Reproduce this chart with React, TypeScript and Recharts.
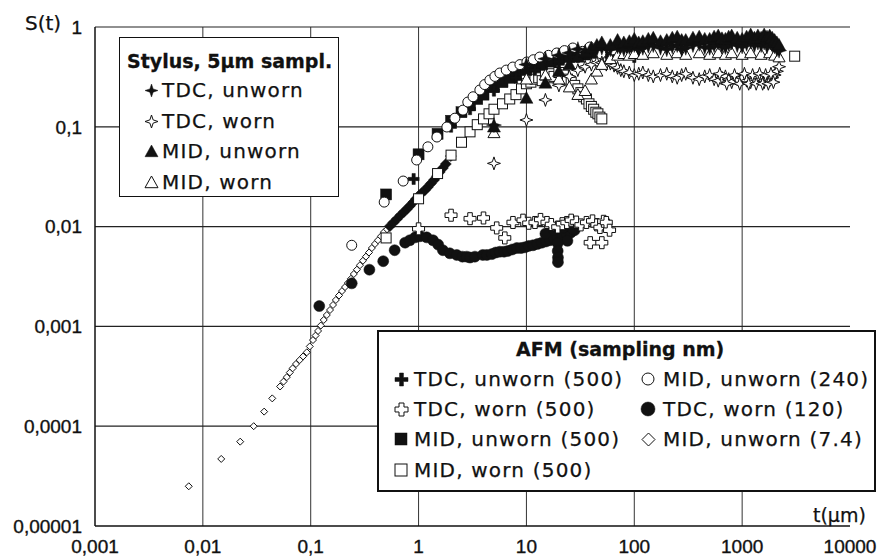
import React from 'react';
import { ScatterChart, Scatter, XAxis, YAxis, ReferenceLine } from 'recharts';

type Pt = [number, number];

// axis ticks and grid
const xTicks = [0.001, 0.01, 0.1, 1, 10, 100, 1000, 10000];
const yTicks = [0.00001, 0.0001, 0.001, 0.01, 0.1, 1];
const xGrid = [0.01, 0.1, 1, 10, 100, 1000];
const yGrid = [0.0001, 0.001, 0.01, 0.1, 1];

// AFM, MID unworn (7.4 nm) - small open diamonds
const afmMidUnworn74: Pt[] = [
  [0.0074, 2.5e-5], [0.0148, 4.7e-5], [0.0222, 7.0e-5], [0.0296, 1.0e-4], [0.037, 1.4e-4],
  [0.044, 1.9e-4], [0.052, 2.5e-4], [0.056, 2.8e-4], [0.06, 3.1e-4], [0.064, 3.45e-4], [0.068, 3.8e-4],
  [0.073, 4.2e-4], [0.079, 4.6e-4], [0.085, 5.0e-4], [0.092, 5.5e-4], [0.098, 6.3e-4], [0.105, 7.3e-4],
  [0.111, 8.1e-4], [0.117, 9.0e-4], [0.124, 1.02e-3], [0.132, 1.16e-3], [0.141, 1.3e-3], [0.151, 1.46e-3],
  [0.161, 1.64e-3], [0.171, 1.84e-3], [0.183, 2.04e-3], [0.195, 2.26e-3], [0.208, 2.48e-3], [0.221, 2.72e-3],
  [0.236, 3.0e-3], [0.251, 3.35e-3], [0.268, 3.7e-3], [0.286, 4.1e-3], [0.305, 4.55e-3], [0.325, 5.0e-3],
  [0.347, 5.5e-3], [0.369, 6.1e-3], [0.394, 6.7e-3], [0.42, 7.3e-3], [0.448, 8.0e-3], [0.477, 8.8e-3],
  [0.51, 9.4e-3],
];
// same series where the points pile up into a solid band
const afmMidUnworn74Dense: Pt[] = [
  [0.542, 0.0101], [0.585, 0.011], [0.629, 0.0119], [0.68, 0.013], [0.731, 0.014], [0.78, 0.015],
  [0.83, 0.0161], [0.89, 0.0175], [0.944, 0.0189], [1.0, 0.0203], [1.07, 0.0217], [1.15, 0.0233],
  [1.22, 0.0249], [1.3, 0.027], [1.39, 0.0293], [1.48, 0.032], [1.57, 0.0352], [1.68, 0.0386],
  [1.79, 0.0424], [1.99, 0.0509],
];
// AFM, TDC worn (120 nm) - filled circles
const afmTdcWorn120: Pt[] = [
  [0.12, 0.0016], [0.24, 0.0027], [0.35, 0.0037], [0.47, 0.0045], [0.6, 0.0058], [0.75, 0.0069],
  [0.83, 0.0073], [0.93, 0.0078], [1.03, 0.008], [1.19, 0.0078], [1.36, 0.0073], [1.52, 0.0066],
  [1.68, 0.0058], [1.95, 0.0054], [2.26, 0.0052], [2.55, 0.005], [2.8, 0.005], [3.0, 0.0049],
  [3.33, 0.005], [3.94, 0.0052], [4.3, 0.0052], [4.78, 0.0053], [5.2, 0.0055], [5.67, 0.0056],
  [6.2, 0.0056], [6.73, 0.0057], [7.4, 0.0059], [8.15, 0.0061], [8.9, 0.0061], [9.66, 0.0062],
  [10.5, 0.0064], [11.5, 0.0065], [12.7, 0.0067], [13.9, 0.0069], [15.2, 0.0071], [16.5, 0.0073],
  [18, 0.0076], [19.5, 0.0079], [21.5, 0.0081], [23.7, 0.0082], [25.8, 0.0087], [28, 0.0092],
  [15, 0.0085], [18, 0.0092], [22, 0.0098], [25, 0.0101], [27, 0.0095], [24, 0.0072],
  [19.5, 0.0068], [19.5, 0.0057], [19.6, 0.0049], [19.6, 0.0044],
];
// AFM, TDC worn (500 nm) - open plus
const afmTdcWorn500: Pt[] = [
  [1.0, 0.0095], [2.0, 0.013], [3.0, 0.012], [4.0, 0.0122], [5.3, 0.0097], [6.3, 0.0077],
  [7.5, 0.011], [9.3, 0.0116], [10.5, 0.0108], [12, 0.011], [13.5, 0.0118], [15.5, 0.011],
  [17, 0.0105], [19.5, 0.0099], [21.5, 0.0107], [23.7, 0.011], [26, 0.0116], [29, 0.0111],
  [32, 0.0104], [36, 0.011], [39, 0.0069], [41, 0.0114], [45, 0.0104], [48, 0.0098],
  [50, 0.0069], [52, 0.0113], [55, 0.011], [59, 0.0092],
];
// AFM, MID worn (500 nm) - open squares
const afmMidWorn500: Pt[] = [
  [0.5, 0.0077], [1.0, 0.019], [1.5, 0.034], [2.0, 0.052], [2.5, 0.07], [3.0, 0.089], [3.5, 0.105],
  [4.0, 0.12], [4.5, 0.135], [5.0, 0.15], [6, 0.17], [7, 0.19], [8, 0.21], [9, 0.24], [10, 0.27],
  [11, 0.28], [12, 0.3], [13, 0.31], [14, 0.29], [15, 0.33], [16, 0.31], [17, 0.34], [18, 0.32],
  [20, 0.35], [22, 0.33], [24, 0.3], [26, 0.28], [28, 0.26], [30, 0.24], [32, 0.22], [34, 0.2],
  [36, 0.19], [38, 0.17], [40, 0.16], [42, 0.15], [44, 0.14], [46, 0.135], [48, 0.125], [50, 0.12],
  [3070, 0.51],
];
// AFM, MID unworn (500 nm) - filled squares
const afmMidUnworn500: Pt[] = [
  [0.5, 0.021], [1.0, 0.053], [1.5, 0.085], [2.0, 0.115], [2.5, 0.14], [3, 0.165], [3.5, 0.19],
  [4, 0.21], [5, 0.25], [6, 0.28], [7, 0.31], [8, 0.33], [10, 0.37], [12, 0.4], [14, 0.42],
  [17, 0.45], [20, 0.47], [25, 0.5], [30, 0.52], [35, 0.53], [40, 0.55], [50, 0.57], [60, 0.55],
  [70, 0.58], [85, 0.56], [100, 0.6],
];
// AFM, MID unworn (240 nm) - open circles
const afmMidUnworn240: Pt[] = [
  [0.24, 0.0065], [0.48, 0.0176], [0.72, 0.0286], [0.96, 0.0465], [1.22, 0.063], [1.48, 0.079],
  [1.83, 0.0995], [2.17, 0.122], [2.58, 0.147], [2.86, 0.177], [3.2, 0.2], [3.7, 0.234],
  [4.1, 0.265], [4.58, 0.294], [5.1, 0.32], [5.67, 0.346], [6.5, 0.37], [7.48, 0.397],
  [8.7, 0.42], [10.1, 0.446], [11.6, 0.47], [13.3, 0.5], [16, 0.52], [19.1, 0.549],
  [22.5, 0.58], [26.9, 0.616], [33, 0.57], [38.7, 0.63], [49, 0.54], [63, 0.59],
];
// AFM, TDC unworn (500 nm) - filled plus
const afmTdcUnworn500: Pt[] = [
  [0.9, 0.03], [2, 0.1], [3, 0.15], [5, 0.23], [8, 0.31], [12, 0.37], [20, 0.45], [30, 0.5],
  [50, 0.52], [80, 0.56], [100, 0.5],
];

// Stylus, 5 um sampling
const stylusTdcUnworn: Pt[] = [
  [5, 0.104], [10, 0.42], [15, 0.48], [20, 0.52], [25, 0.55], [30, 0.6], [35, 0.56], [40, 0.58],
  [45, 0.6], [50, 0.62], [60, 0.6], [70, 0.64], [80, 0.6], [90, 0.63], [100, 0.66], [110, 0.6],
  [120, 0.62], [135, 0.65], [150, 0.66], [175, 0.62], [200, 0.6], [225, 0.64], [250, 0.66],
  [275, 0.6], [300, 0.62], [350, 0.66], [400, 0.68], [450, 0.63], [500, 0.62], [550, 0.66],
  [600, 0.7], [650, 0.64], [700, 0.63], [750, 0.68], [800, 0.7], [900, 0.66], [1000, 0.64],
  [1100, 0.68], [1200, 0.72], [1300, 0.66], [1400, 0.7], [1500, 0.66], [1600, 0.7], [1700, 0.64],
  [1800, 0.72], [1900, 0.68], [2000, 0.64], [2100, 0.6], [2200, 0.58],
];
const stylusTdcWorn: Pt[] = [
  [5, 0.043], [10, 0.117], [15, 0.186], [20, 0.26], [25, 0.32], [30, 0.37], [35, 0.4], [40, 0.42],
  [45, 0.44], [50, 0.44], [55, 0.42], [60, 0.43], [65, 0.41], [70, 0.39], [75, 0.37], [80, 0.36],
  [90, 0.35], [100, 0.33], [110, 0.34], [120, 0.35], [135, 0.33], [150, 0.32], [175, 0.33],
  [200, 0.34], [225, 0.32], [250, 0.31], [275, 0.33], [300, 0.34], [350, 0.31], [400, 0.3],
  [450, 0.32], [500, 0.33], [550, 0.3], [600, 0.29], [650, 0.31], [700, 0.32], [750, 0.3],
  [800, 0.28], [900, 0.3], [1000, 0.31], [1100, 0.29], [1200, 0.28], [1300, 0.3], [1400, 0.31],
  [1500, 0.3], [1600, 0.28], [1700, 0.3], [1800, 0.29], [1900, 0.31], [2000, 0.33], [2100, 0.36],
  [2200, 0.4], [620, 0.34], [720, 0.27], [850, 0.33], [950, 0.27], [1050, 0.34], [1150, 0.27],
  [1250, 0.33], [1350, 0.27], [1450, 0.34], [1550, 0.27], [1650, 0.33], [1750, 0.27], [1850, 0.34],
  [1950, 0.28],
];
const stylusMidUnworn: Pt[] = [
  [5, 0.1], [10, 0.194], [15, 0.275], [20, 0.36], [25, 0.42], [30, 0.5], [35, 0.56], [40, 0.62],
  [45, 0.66], [50, 0.7], [60, 0.66], [70, 0.74], [80, 0.7], [90, 0.72], [100, 0.76], [110, 0.7],
  [120, 0.72], [135, 0.76], [150, 0.78], [175, 0.72], [200, 0.74], [225, 0.78], [250, 0.8],
  [275, 0.74], [300, 0.74], [350, 0.78], [400, 0.8], [450, 0.76], [500, 0.76], [550, 0.8],
  [600, 0.82], [650, 0.77], [700, 0.76], [750, 0.8], [800, 0.82], [900, 0.78], [1000, 0.76],
  [1100, 0.8], [1200, 0.84], [1300, 0.78], [1400, 0.82], [1500, 0.78], [1600, 0.84], [1700, 0.8],
  [1800, 0.82], [1900, 0.78], [2000, 0.74], [2100, 0.7], [2200, 0.66],
];
const stylusMidWorn: Pt[] = [
  [5, 0.087], [10, 0.3], [15, 0.33], [20, 0.3], [25, 0.25], [30, 0.21], [35, 0.23], [40, 0.3],
  [45, 0.36], [50, 0.42], [60, 0.48], [70, 0.52], [80, 0.54], [90, 0.52], [100, 0.54], [120, 0.53],
  [150, 0.55], [200, 0.53], [250, 0.55], [300, 0.53], [400, 0.55], [500, 0.53], [600, 0.55],
  [700, 0.53], [800, 0.55], [1000, 0.53], [1200, 0.55], [1500, 0.53], [1800, 0.55], [2000, 0.52],
  [2200, 0.5],
];

const INK = '#111';
const LEGEND_FONT = '"DejaVu Sans", Verdana, sans-serif';
const TICK_FONT = '"Liberation Sans", Arial, sans-serif';

const toXY = (arr: Pt[]) => arr.map(([x, y]) => ({ x, y }));
const fmt = (v: number) => String(v).replace('.', ',');

function marker(kind: string, cx: number, cy: number, s: number) {
  const r = s / 2;
  const open = { fill: '#fff', stroke: INK, strokeWidth: 1 };
  const solid = { fill: INK, stroke: INK, strokeWidth: 0.5 };
  switch (kind) {
    case 'star':
    case 'starOpen': {
      const k = r * 0.25;
      const d = `M${cx},${cy - r} L${cx + k},${cy - k} L${cx + r},${cy} L${cx + k},${cy + k} L${cx},${cy + r} L${cx - k},${cy + k} L${cx - r},${cy} L${cx - k},${cy - k} Z`;
      return <path d={d} {...(kind === 'star' ? solid : open)} />;
    }
    case 'tri':
    case 'triOpen': {
      const d = `M${cx},${cy - r} L${cx + r},${cy + r * 0.8} L${cx - r},${cy + r * 0.8} Z`;
      return <path d={d} {...(kind === 'tri' ? solid : open)} />;
    }
    case 'plus':
    case 'plusOpen': {
      const a = kind === 'plus' ? r * 0.3 : r * 0.38;
      const d = `M${cx - a},${cy - r} H${cx + a} V${cy - a} H${cx + r} V${cy + a} H${cx + a} V${cy + r} H${cx - a} V${cy + a} H${cx - r} V${cy - a} H${cx - a} Z`;
      return <path d={d} {...(kind === 'plus' ? solid : open)} />;
    }
    case 'square':
    case 'squareOpen':
      return <rect x={cx - r} y={cy - r} width={s} height={s} {...(kind === 'square' ? solid : open)} />;
    case 'circle':
    case 'circleOpen':
      return <circle cx={cx} cy={cy} r={r} {...(kind === 'circle' ? solid : open)} />;
    case 'diamond':
    case 'diamondOpen': {
      const d = `M${cx},${cy - r} L${cx + r},${cy} L${cx},${cy + r} L${cx - r},${cy} Z`;
      return <path d={d} {...(kind === 'diamond' ? solid : open)} />;
    }
    default:
      return <g />;
  }
}

const shape = (kind: string, s: number) => (p: any) => marker(kind, p.cx, p.cy, s);

const LegendMark = ({ kind, s, x, y }: { kind: string; s: number; x: number; y: number }) => (
  <svg width={s + 4} height={s + 4} style={{ position: 'absolute', left: x - s / 2 - 2, top: y - s / 2 - 2 }}>
    {marker(kind, s / 2 + 2, s / 2 + 2, s)}
  </svg>
);

const Label = ({ x, y, text, bold, size = 20, spacing = 1.2 }: { x: number; y: number; text: string; bold?: boolean; size?: number; spacing?: number }) => (
  <div
    style={{
      position: 'absolute', left: x, top: y - 14, height: 28, lineHeight: '28px', whiteSpace: 'nowrap',
      fontFamily: LEGEND_FONT, fontSize: size, fontWeight: bold ? 700 : 400, letterSpacing: spacing, color: INK,
      WebkitTextStroke: bold ? '0.3px #111' : '0.25px #111',
    }}
  >
    {text}
  </div>
);

const stylusItems = [
  { kind: 'star', s: 13, text: 'TDC, unworn' },
  { kind: 'starOpen', s: 13, text: 'TDC, worn' },
  { kind: 'tri', s: 13, text: 'MID, unworn' },
  { kind: 'triOpen', s: 13, text: 'MID, worn' },
];
const afmLeftItems = [
  { kind: 'plus', s: 13, text: 'TDC, unworn (500)' },
  { kind: 'plusOpen', s: 13, text: 'TDC, worn (500)' },
  { kind: 'square', s: 12, text: 'MID, unworn (500)' },
  { kind: 'squareOpen', s: 12, text: 'MID, worn (500)' },
];
const afmRightItems = [
  { kind: 'circleOpen', s: 12, text: 'MID, unworn (240)' },
  { kind: 'circle', s: 14, text: 'TDC, worn (120)' },
  { kind: 'diamondOpen', s: 13, text: 'MID, unworn (7.4)' },
];
const stylusRows = [90, 121, 151, 182];
const afmRows = [379, 409, 439, 470];

export default function App() {
  const tick = { fontSize: 19, fill: INK, fontFamily: TICK_FONT, stroke: INK, strokeWidth: 0.35 };
  return (
    <div style={{ position: 'absolute', left: 0, top: 0, width: 883, height: 560, background: '#fff' }}>
      <ScatterChart width={883} height={560} margin={{ top: 27, right: 33, bottom: 0, left: 15 }}>
        <XAxis
          dataKey="x" type="number" scale="log" domain={[0.001, 10000]} ticks={xTicks} interval={0}
          allowDataOverflow tickFormatter={fmt} tick={tick} tickLine={false} tickSize={0} tickMargin={14}
          height={34} axisLine={{ stroke: INK, strokeWidth: 1.5 }}
        />
        <YAxis
          dataKey="y" type="number" scale="log" domain={[0.00001, 1]} ticks={yTicks} interval={0}
          allowDataOverflow tickFormatter={fmt} tick={tick} tickLine={false} tickSize={0} tickMargin={13}
          width={80} axisLine={{ stroke: INK, strokeWidth: 1.5 }}
        />
        {xGrid.map((v) => (
          <ReferenceLine key={`gx${v}`} x={v} stroke="#333" strokeWidth={1} ifOverflow="visible" />
        ))}
        {yGrid.map((v) => (
          <ReferenceLine key={`gy${v}`} y={v} stroke="#222" strokeWidth={1.2} ifOverflow="visible" />
        ))}
        <Scatter data={toXY(afmMidUnworn74)} shape={shape('diamondOpen', 7)} isAnimationActive={false} />
        <Scatter data={toXY(afmMidUnworn74Dense)} shape={shape('diamond', 11)} isAnimationActive={false} />
        <Scatter data={toXY(afmTdcWorn120)} shape={shape('circle', 11)} isAnimationActive={false} />
        <Scatter data={toXY(afmTdcWorn500)} shape={shape('plusOpen', 12)} isAnimationActive={false} />
        <Scatter data={toXY(afmMidWorn500)} shape={shape('squareOpen', 10)} isAnimationActive={false} />
        <Scatter data={toXY(afmMidUnworn500)} shape={shape('square', 11)} isAnimationActive={false} />
        <Scatter data={toXY(afmTdcUnworn500)} shape={shape('plus', 11)} isAnimationActive={false} />
        <Scatter data={toXY(afmMidUnworn240)} shape={shape('circleOpen', 10)} isAnimationActive={false} />
        <Scatter data={toXY(stylusTdcWorn)} shape={shape('starOpen', 13)} isAnimationActive={false} />
        <Scatter data={toXY(stylusMidWorn)} shape={shape('triOpen', 12)} isAnimationActive={false} />
        <Scatter data={toXY(stylusTdcUnworn)} shape={shape('star', 15)} isAnimationActive={false} />
        <Scatter data={toXY(stylusMidUnworn)} shape={shape('tri', 13)} isAnimationActive={false} />
      </ScatterChart>

      <Label x={25} y={23} text="S(t)" spacing={0} />
      <Label x={813} y={515} text="t(µm)" size={19} spacing={0} />

      {/* stylus legend */}
      <div style={{ position: 'absolute', left: 119, top: 37, width: 218, height: 158, border: `1.5px solid ${INK}`, background: '#fff' }} />
      <Label x={127} y={61} text="Stylus, 5µm sampl." bold size={19} spacing={0} />
      {stylusItems.map((it, i) => (
        <React.Fragment key={it.text}>
          <LegendMark kind={it.kind} s={it.s} x={151} y={stylusRows[i]} />
          <Label x={162} y={stylusRows[i]} text={it.text} />
        </React.Fragment>
      ))}

      {/* AFM legend */}
      <div style={{ position: 'absolute', left: 377, top: 330, width: 495, height: 158, border: `2px solid ${INK}`, background: '#fff' }} />
      <Label x={516} y={349} text="AFM (sampling nm)" bold size={19} spacing={0} />
      {afmLeftItems.map((it, i) => (
        <React.Fragment key={it.text}>
          <LegendMark kind={it.kind} s={it.s} x={401} y={afmRows[i]} />
          <Label x={414} y={afmRows[i]} text={it.text} />
        </React.Fragment>
      ))}
      {afmRightItems.map((it, i) => (
        <React.Fragment key={it.text}>
          <LegendMark kind={it.kind} s={it.s} x={648} y={afmRows[i]} />
          <Label x={663} y={afmRows[i]} text={it.text} />
        </React.Fragment>
      ))}
    </div>
  );
}
